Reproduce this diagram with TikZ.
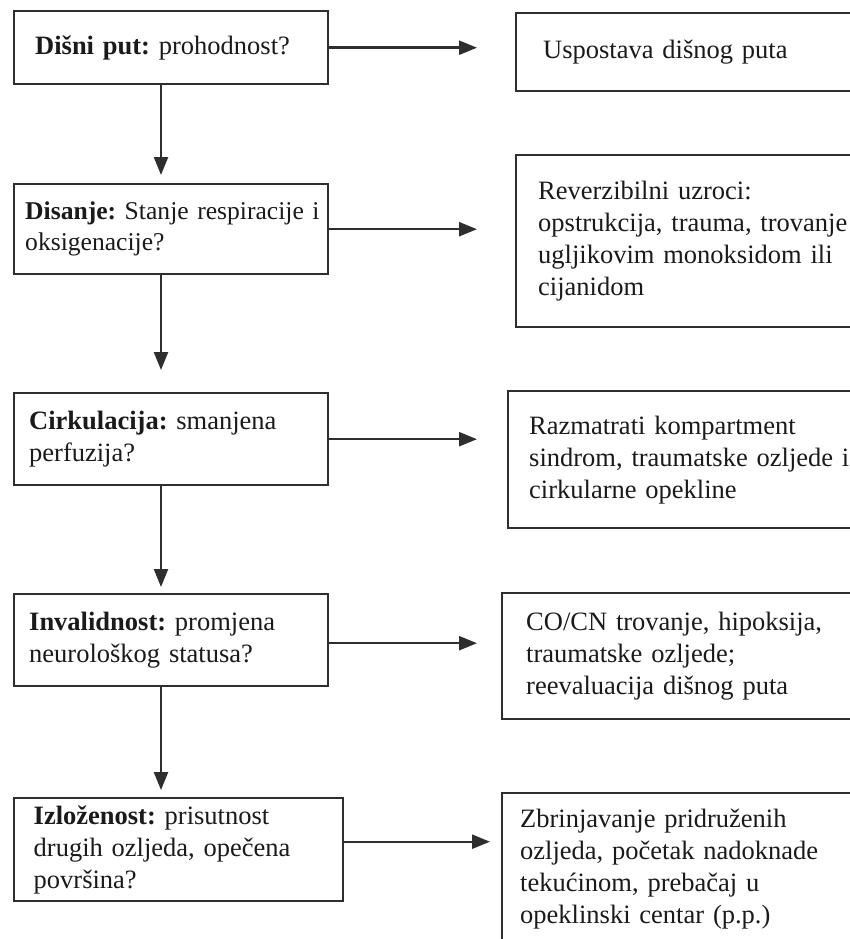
\documentclass[tikz,border=0pt]{standalone}
\usepackage{fontspec}
\setmainfont{Liberation Serif}
\usetikzlibrary{arrows.meta}
\definecolor{linegray}{HTML}{2E2E2E}
\definecolor{textdark}{HTML}{1A1A1A}
\begin{document}
\frenchspacing
\begin{tikzpicture}[x=1pt,y=-1pt,
  box/.style={draw=linegray, line width=2.4pt, anchor=north west, align=left,
    inner ysep=0pt, text=textdark, font=\fontsize{26.5}{32}\selectfont\frenchspacing},
  arr/.style={draw=linegray, line width=2.4pt, -{Triangle[length=18pt,width=14pt]}}
]
\useasboundingbox (0,0) rectangle (850,939);
\fill[white] (0,0) rectangle (850,939);
\clip (0,0) rectangle (850,939);

% left column
\node[box, minimum width=314pt, minimum height=73pt, text width=272pt, inner xsep=21pt] (L1) at (13,10)
  {\mbox{\textbf{Dišni put:} prohodnost?}};
\node[box, minimum width=314pt, minimum height=90pt, text width=292pt, inner xsep=11pt,
  font=\fontsize{25.6}{31}\selectfont\frenchspacing] (L2) at (13,183)
  {\mbox{\textbf{Disanje:} Stanje respiracije i}\\\mbox{oksigenacije?}};
\node[box, minimum width=314pt, minimum height=92pt, text width=284pt, inner xsep=15pt] (L3) at (13,392)
  {\mbox{\textbf{Cirkulacija:} smanjena}\\\mbox{perfuzija?}};
\node[box, minimum width=314pt, minimum height=92pt, text width=284pt, inner xsep=15pt] (L4) at (13,593)
  {\mbox{\textbf{Invalidnost:} promjena}\\\mbox{neurološkog statusa?}};
\node[box, minimum width=329pt, minimum height=103pt, text width=290pt, inner xsep=19.5pt] (L5) at (13,797)
  {\mbox{\textbf{Izloženost:} prisutnost}\\\mbox{drugih ozljeda, opečena}\\\mbox{površina?}};

% right column
\node[box, minimum width=360pt, minimum height=78pt, text width=306pt, inner xsep=27pt] (R1) at (515,12)
  {\mbox{Uspostava dišnog puta}};
\node[box, minimum width=360pt, minimum height=172pt, text width=316pt, inner xsep=22pt] (R2) at (515,154)
  {\mbox{Reverzibilni uzroci:}\\\mbox{opstrukcija, trauma, trovanje}\\\mbox{ugljikovim monoksidom ili}\\\mbox{cijanidom}};
\node[box, minimum width=368pt, minimum height=137pt, text width=326pt, inner xsep=21pt] (R3) at (507,390)
  {\mbox{Razmatrati kompartment}\\\mbox{sindrom, traumatske ozljede i}\\\mbox{cirkularne opekline}};
\node[box, minimum width=374pt, minimum height=126pt, text width=326pt, inner xsep=24pt] (R4) at (501,592)
  {\mbox{CO/CN trovanje, hipoksija,}\\\mbox{traumatske ozljede;}\\\mbox{reevaluacija dišnog puta}};
\node[box, minimum width=374pt, minimum height=152pt, text width=338pt, inner xsep=18pt] (R5) at (501,792)
  {\mbox{Zbrinjavanje pridruženih}\\\mbox{ozljeda, početak nadoknade}\\\mbox{tekućinom, prebačaj u}\\\mbox{opeklinski centar (p.p.)}};

% vertical arrows
\coordinate (vx) at (161,0);
\draw[arr, shorten >=8pt]  (L1.south -| vx) -- (L2.north -| vx);
\draw[arr, shorten >=22pt] (L2.south -| vx) -- (L3.north -| vx);
\draw[arr, shorten >=6pt]  (L3.south -| vx) -- (L4.north -| vx);
\draw[arr, shorten >=7pt]  (L4.south -| vx) -- (L5.north -| vx);

% horizontal arrows
\draw[arr, shorten >=38pt] (L1.east) -- (L1.east -| R1.west);
\draw[arr, shorten >=38pt] (L2.east) -- (L2.east -| R2.west);
\draw[arr, shorten >=30pt] (L3.east) -- (L3.east -| R3.west);
\draw[arr, shorten >=24pt] ([yshift=-3pt]L4.east) -- ([yshift=-3pt]L4.east -| R4.west);
\draw[arr, shorten >=11pt] ([yshift=8pt]L5.east) -- ([yshift=8pt]L5.east -| R5.west);
\end{tikzpicture}
\end{document}
